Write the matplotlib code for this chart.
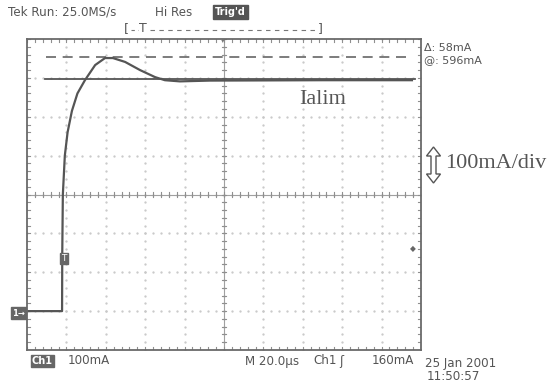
import numpy as np
import matplotlib
matplotlib.use("Agg")
import matplotlib.pyplot as plt
from matplotlib.patches import Polygon

# ---- data (time in µs, current in mA relative to the ground marker) ----
time_us = [0, 17.8, 17.9, 18.2, 19.2, 20.6, 22.8, 25.6, 29.4, 34.6, 39.6, 43.6,
           49.8, 57.4, 65.0, 70.0, 77.6, 92.8, 150.0, 195.4]
current_mA = [0, 0, 150, 300, 400, 460, 515, 560, 594, 633, 651, 651,
              641, 620, 602, 594, 591, 593, 594, 594]
ialim_mA = 596
cursor_mA = 654
delta_mA = 58
volts_per_div = 100   # mA/div
time_per_div = 20     # µs/div
ground_div = -3.0     # ground position in divisions
trig_level_mA = 160

W, H = 553, 382
fig = plt.figure(figsize=(W / 100, H / 100), dpi=100)
fig.patch.set_facecolor("white")

def fx(x):
    return x / W

def fy(y):
    return 1 - y / H

L, R, T, B = 27, 421, 39, 350
ax = fig.add_axes([fx(L), fy(B), fx(R) - fx(L), fy(T) - fy(B)])
ax.set_xlim(0, 10 * time_per_div)
ax.set_ylim((-4 - ground_div) * volts_per_div, (4 - ground_div) * volts_per_div)
ax.set_xticks([])
ax.set_yticks([])
for s in ax.spines.values():
    s.set_color("#6a6a6a")
    s.set_linewidth(1.3)

gcol = "#c8c8c8"
xd = time_per_div
yd = volts_per_div
y0 = (-4 - ground_div) * yd
# graticule dots
for i in range(1, 10):
    ys = y0 + np.arange(0, 8.01, 0.2) * yd
    ax.plot([i * xd] * len(ys), ys, ls="none", marker=".", ms=1.3, color=gcol)
for j in range(1, 8):
    xs = np.arange(0, 10.01, 0.2) * xd
    ax.plot(xs, [y0 + j * yd] * len(xs), ls="none", marker=".", ms=1.3, color=gcol)
# centre axes with ticks
cx, cy = 5 * xd, y0 + 4 * yd
tcol = "#8f8f8f"
ax.axvline(cx, color="#a0a0a0", lw=0.8)
ax.axhline(cy, color="#a0a0a0", lw=0.8)
for k in np.arange(0, 10.01, 0.2):
    ax.plot([k * xd] * 2, [cy - 0.06 * yd, cy + 0.06 * yd], color=tcol, lw=0.8)
    ax.plot([k * xd] * 2, [y0 + 8 * yd, y0 + 7.92 * yd], color=tcol, lw=0.8)
    ax.plot([k * xd] * 2, [y0, y0 + 0.08 * yd], color=tcol, lw=0.8)
for k in np.arange(0, 8.01, 0.2):
    ax.plot([cx - 0.06 * xd, cx + 0.06 * xd], [y0 + k * yd] * 2, color=tcol, lw=0.8)
    ax.plot([10 * xd, 9.92 * xd], [y0 + k * yd] * 2, color=tcol, lw=0.8)
    ax.plot([0, 0.08 * xd], [y0 + k * yd] * 2, color=tcol, lw=0.8)

# cursors
ax.plot([0.48 * xd, 9.75 * xd], [cursor_mA] * 2, color="#666666", lw=1.2, dashes=(6, 4))
ax.plot([0.45 * xd, 9.85 * xd], [ialim_mA] * 2, color="#555555", lw=1.3)

# trace
ax.plot(time_us, current_mA, color="#555555", lw=1.6, solid_joinstyle="round")

# trigger level marker on trace
ax.text(0.93 * xd, trig_level_mA - 25, "T", fontsize=6.5, color="white", ha="center",
        va="center", bbox=dict(boxstyle="square,pad=0.15", fc="#666666", ec="#666666"))

txt = dict(family="DejaVu Sans", color="#555555")
fs = 8.6
fig.text(fx(8), fy(12), "Tek Run: 25.0MS/s", fontsize=fs, va="center", **txt)
fig.text(fx(155), fy(12), "Hi Res", fontsize=fs, va="center", **txt)
fig.text(fx(215), fy(12), "Trig'd", fontsize=7, va="center", color="white",
         family="DejaVu Sans", fontweight="bold",
         bbox=dict(boxstyle="square,pad=0.2", fc="#555555", ec="#555555"))
fig.text(fx(124), fy(29), "[", fontsize=9, va="center", **txt)
fig.text(fx(139), fy(29), "T", fontsize=9, va="center", **txt)
fig.text(fx(318), fy(29), "]", fontsize=9, va="center", **txt)
fig.add_artist(plt.Line2D([fx(131), fx(138)], [fy(30), fy(30)], color="#777777", lw=0.8,
                          dashes=(3, 3)))
fig.add_artist(plt.Line2D([fx(150), fx(318)], [fy(30), fy(30)], color="#777777", lw=0.8,
                          dashes=(4, 4)))
fig.text(fx(424), fy(48), "\u0394: %dmA" % delta_mA, fontsize=8, va="center", **txt)
fig.text(fx(424), fy(60), "@: %dmA" % ialim_mA, fontsize=8, va="center", **txt)

# serif annotations
fig.text(fx(299), fy(100), "Ialim", fontsize=16, va="center", family="Liberation Serif",
         color="#555555")
fig.text(fx(445), fy(164), "100mA/div", fontsize=16, va="center", family="Liberation Serif",
         color="#555555")
# double arrow
axc, top, bot, hw, sw, hl = 433.5, 147, 183, 7, 2.5, 9
pts = [(axc, top), (axc + hw, top + hl), (axc + sw, top + hl), (axc + sw, bot - hl),
       (axc + hw, bot - hl), (axc, bot), (axc - hw, bot - hl), (axc - sw, bot - hl),
       (axc - sw, top + hl), (axc - hw, top + hl)]
fig.add_artist(Polygon([(fx(x), fy(y)) for x, y in pts], closed=True, fc="white",
                       ec="#555555", lw=1.0, transform=fig.transFigure))

# ground marker
fig.text(fx(12), fy(313), "1\u2192", fontsize=6, va="center", color="white",
         family="DejaVu Sans", fontweight="bold",
         bbox=dict(boxstyle="square,pad=0.15", fc="#666666", ec="#666666"))
# right-edge trigger-level marker and top trigger-position marker
fig.text(fx(413), fy(249), "\u25c6", fontsize=5.5, va="center", ha="center", color="#666666")
fig.text(fx(223), fy(41), "\u25be", fontsize=5, va="center", ha="center", color="#777777")

# bottom readouts
fig.text(fx(32), fy(361), "Ch1", fontsize=7, va="center", color="white",
         family="DejaVu Sans", fontweight="bold",
         bbox=dict(boxstyle="square,pad=0.15", fc="#666666", ec="#666666"))
fig.text(fx(68), fy(361), "100mA", fontsize=fs, va="center", **txt)
fig.text(fx(245), fy(361), "M 20.0\u00b5s", fontsize=fs, va="center", **txt)
fig.text(fx(313), fy(361), "Ch1", fontsize=fs, va="center", **txt)
fig.text(fx(339), fy(361), "\u0283", fontsize=fs, va="center", **txt)
fig.text(fx(372), fy(361), "160mA", fontsize=fs, va="center", **txt)
fig.text(fx(425), fy(363), "25 Jan 2001", fontsize=fs, va="center", **txt)
fig.text(fx(427), fy(377), "11:50:57", fontsize=fs, va="center", **txt)

fig.savefig("out.png", dpi=100, facecolor="white")
